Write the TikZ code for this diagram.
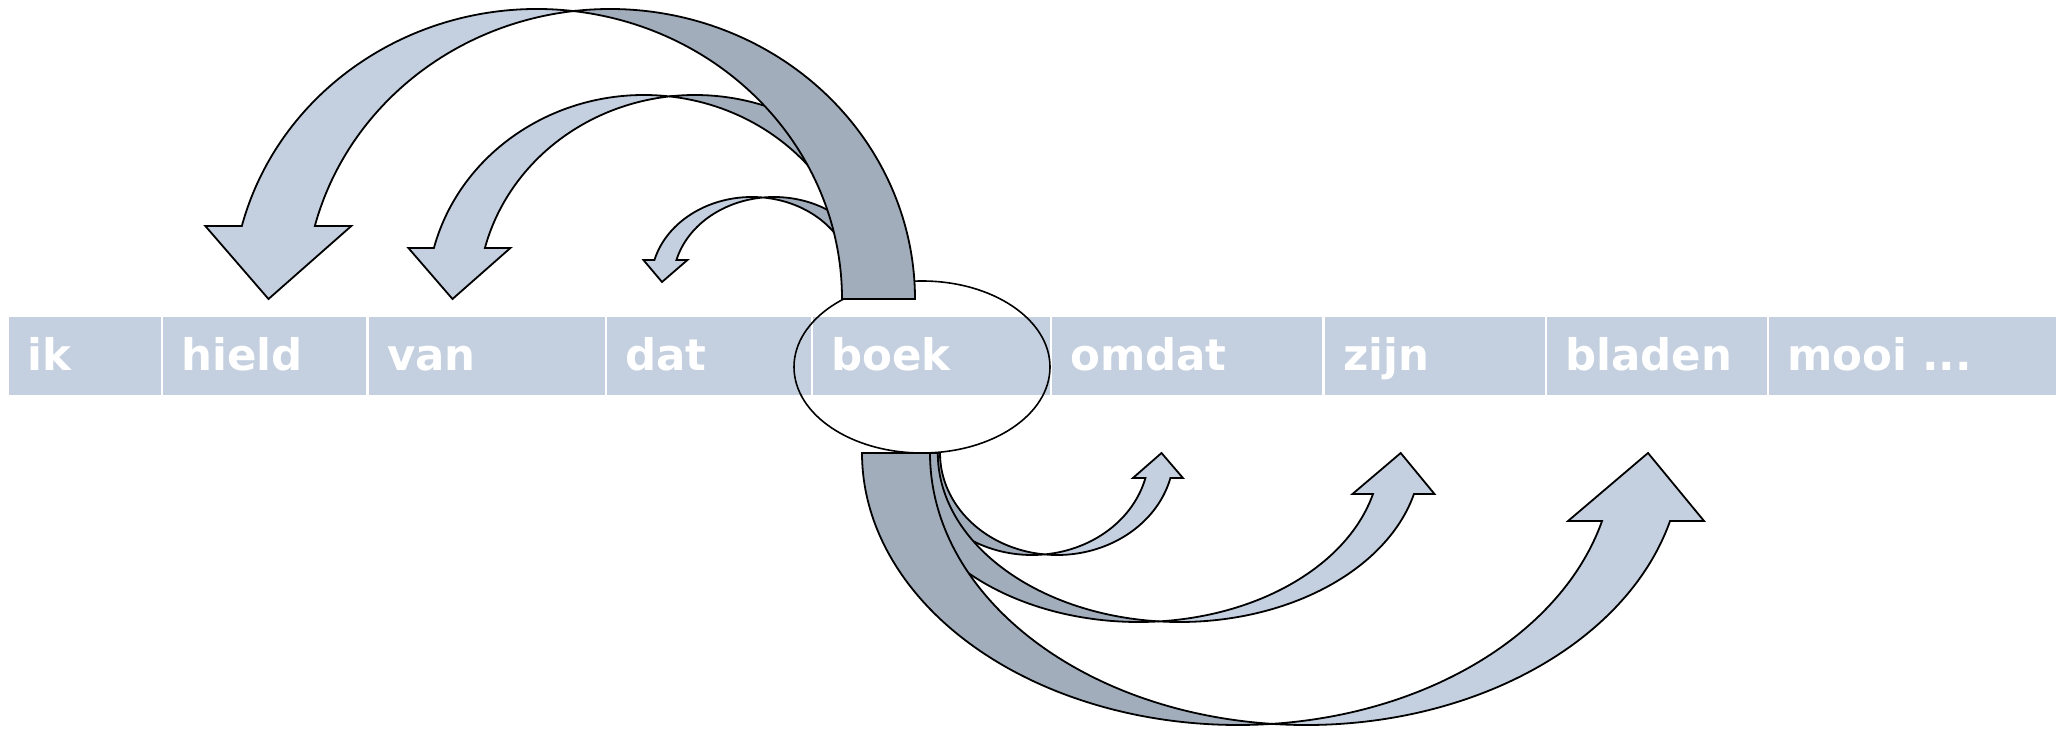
\documentclass[tikz,border=0pt]{standalone}
\usepackage{fontspec}
\setmainfont{DejaVu Sans}
\usetikzlibrary{calc,shapes.geometric}
\definecolor{boxblue}{RGB}{196,208,223}
\definecolor{darkband}{RGB}{162,173,188}
\tikzset{
  band/.style={draw=black, line width=1.8pt, line join=miter},
  wordbox/.style={rectangle, fill=boxblue, draw=none, anchor=north west, minimum height=78pt, inner sep=0pt},
  wordtext/.style={anchor=base west, inner sep=0pt, text=white, font=\bfseries\fontsize{43.5}{50}\selectfont},
}
% curved arrow over the row, pointing down-left: centre x, centre y (pixel), x radius, y radius, thickness
\newcommand\qdownarrow[5]{%
  \pgfmathsetmacro\qcx{#1}\pgfmathsetmacro\qCY{729-#2}%
  \pgfmathsetmacro\qa{#3}\pgfmathsetmacro\qb{#4}\pgfmathsetmacro\qt{#5}%
  \pgfmathsetmacro\qh{\qt/2}%
  \pgfmathsetmacro\qtA{acos(\qt/(2*\qa))}%
  \pgfmathsetmacro\qtB{180-\qtA}%
  \pgfmathsetmacro\qtH{180-asin(\qt/\qb)}%
  \pgfmathsetmacro\qxb{\qcx+\qa*cos(\qtH)}%
  \pgfmathsetmacro\qyb{\qCY+\qt}%
  \filldraw[band, fill=darkband] ([shift={(\qcx,\qCY)}]\qtA:\qa pt and \qb pt)
    arc[start angle=\qtA, end angle=0, x radius=\qa pt, y radius=\qb pt]
    -- ++(\qt,0)
    arc[start angle=0, end angle=\qtB, x radius=\qa pt, y radius=\qb pt] -- cycle;
  \filldraw[band, fill=boxblue] ([shift={(\qcx,\qCY)}]\qtA:\qa pt and \qb pt)
    arc[start angle=\qtA, end angle=\qtH, x radius=\qa pt, y radius=\qb pt]
    -- ++(-\qh,0) -- (\qcx-\qa+\qh,\qCY) -- (\qxb+\qt+\qh,\qyb) -- (\qxb+\qt,\qyb)
    arc[start angle=\qtH, end angle=\qtB, x radius=\qa pt, y radius=\qb pt] -- cycle;
}
% curved arrow under the row, pointing up-right
\newcommand\quparrow[5]{%
  \pgfmathsetmacro\qcx{#1}\pgfmathsetmacro\qCY{729-#2}%
  \pgfmathsetmacro\qa{#3}\pgfmathsetmacro\qb{#4}\pgfmathsetmacro\qt{#5}%
  \pgfmathsetmacro\qh{\qt/2}%
  \pgfmathsetmacro\qtA{acos(\qt/(2*\qa))}%
  \pgfmathsetmacro\qtB{\qtA-180}%
  \pgfmathsetmacro\qtH{-asin(\qt/\qb)}%
  \pgfmathsetmacro\qxb{\qcx+\qa*cos(\qtH)}%
  \pgfmathsetmacro\qyb{\qCY-\qt}%
  \filldraw[band, fill=darkband] ([shift={(\qcx,\qCY)}]-\qtA:\qa pt and \qb pt)
    arc[start angle=-\qtA, end angle=-180, x radius=\qa pt, y radius=\qb pt]
    -- ++(\qt,0)
    arc[start angle=-180, end angle=\qtB, x radius=\qa pt, y radius=\qb pt] -- cycle;
  \filldraw[band, fill=boxblue] ([shift={(\qcx,\qCY)}]-\qtA:\qa pt and \qb pt)
    arc[start angle=-\qtA, end angle=\qtH, x radius=\qa pt, y radius=\qb pt]
    -- ++(-\qh,0) -- (\qcx+\qa+\qh,\qCY) -- (\qxb+\qt+\qh,\qyb) -- (\qxb+\qt,\qyb)
    arc[start angle=\qtH, end angle=\qtB, x radius=\qa pt, y radius=\qb pt] -- cycle;
}
\begin{document}
\begin{tikzpicture}[x=1pt,y=1pt]
\useasboundingbox (0,0) rectangle (2065,729);
% word row (pixel top = 317)
\node[wordbox, minimum width=152pt] (ik)     at (9,412) {};
\node[wordbox, minimum width=203pt] (hield)  at (163,412) {};
\node[wordbox, minimum width=236pt] (van)    at (369,412) {};
\node[wordbox, minimum width=204pt] (dat)    at (607,412) {};
\node[wordbox, minimum width=237pt] (boek)   at (813,412) {};
\node[wordbox, minimum width=270pt] (omdat)  at (1052,412) {};
\node[wordbox, minimum width=220pt] (zijn)   at (1325,412) {};
\node[wordbox, minimum width=220pt] (bladen) at (1547,412) {};
\node[wordbox, minimum width=287pt] (mooi)   at (1769,412) {};
\node[wordtext] (ik-t)     at ($(ik.north west)+(18,-54)$) {ik};
\node[wordtext] (hield-t)  at ($(hield.north west)+(18,-54)$) {hield};
\node[wordtext] (van-t)    at ($(van.north west)+(18,-54)$) {van};
\node[wordtext] (dat-t)    at ($(dat.north west)+(18,-54)$) {dat};
\node[wordtext] (boek-t)   at ($(boek.north west)+(18,-54)$) {boek};
\node[wordtext] (omdat-t)  at ($(omdat.north west)+(18,-54)$) {omdat};
\node[wordtext] (zijn-t)   at ($(zijn.north west)+(18,-54)$) {zijn};
\node[wordtext] (bladen-t) at ($(bladen.north west)+(18,-54)$) {bladen};
\node[wordtext] (mooi-t)   at ($(mooi.north west)+(18,-54)$) {mooi ...};
% head word ellipse
\node[draw=black, line width=1.6pt, ellipse, minimum width=256pt, minimum height=172pt, inner sep=0pt] (head) at (922,362) {};
% arrows above
\qdownarrow{752}{282}{101}{85}{22}
\qdownarrow{644}{299}{217}{204}{51}
\qdownarrow{537}{299}{305}{290}{73}
% arrows below
\quparrow{1032}{453}{117}{102}{25}
\quparrow{1138.5}{453}{241.7}{169}{41}
\quparrow{1238}{453}{376}{272}{68}
\end{tikzpicture}
\end{document}
